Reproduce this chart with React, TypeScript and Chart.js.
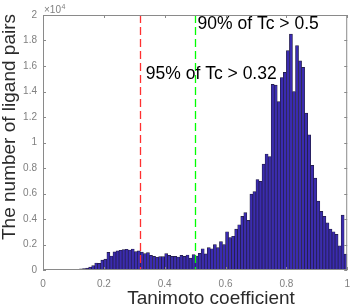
import React, { useEffect, useRef } from "react";
import { Chart, registerables } from "chart.js";

Chart.register(...registerables);

// Histogram of Tanimoto coefficients: 100 bins of width 0.01 on [0, 1]
const BIN_WIDTH = 0.01;
const binStarts: number[] = Array.from({ length: 100 }, (_, i) => i / 100);

// Counts per bin (number of ligand pairs)
const counts: number[] = [
  5, 8, 10, 12, 15, 18, 20, 25, 30, 35,
  40, 60, 90, 120, 150, 220, 350, 550, 520, 780,
  860, 1380, 1100, 1420, 1500, 1550, 1600, 1630, 1570, 1650,
  1450, 1500, 1410, 1280, 1360, 1150, 1070, 1000, 1050, 1050,
  1280, 1150, 1070, 1070, 1020, 1150, 1070, 1180, 930, 1200,
  1100, 1310, 1670, 1260, 1750, 1670, 2000, 1750, 2220, 2000,
  3000, 2550, 2650, 3200, 3550, 4200, 4500, 3900, 5950, 6150,
  7100, 6950, 8300, 9100, 8900, 14560, 14500, 13200, 15100, 15500,
  17200, 18500, 14000, 17600, 16400, 15900, 12300, 10600, 8200, 7200,
  5400, 4600, 4200, 3700, 3200, 3000, 2800, 1900, 4300, 1250,
];

const xTicks: number[] = [0, 0.2, 0.4, 0.6, 0.8, 1];
const yTicks: number[] = [0, 2000, 4000, 6000, 8000, 10000, 12000, 14000, 16000, 18000, 20000];
const yExponentLabel = "×10";
const yExponent = "4";

const thresholds: number[] = [0.32, 0.5];
const thresholdTexts: string[] = ["95% of Tc > 0.32", "90% of Tc > 0.5"];

const xTitle = "Tanimoto coefficient";
const yTitle = "The number of ligand pairs";

const FONT = "'Liberation Sans', Arial, Helvetica, sans-serif";
const LINE_COLORS = ["#ff3030", "#00ff00"];

const matlabPlugin = {
  id: "matlabDecor",
  afterDatasetsDraw(chart: any) {
    const { ctx, chartArea, scales } = chart;
    const { left, right, top, bottom } = chartArea;
    const xs = scales.x;
    const ys = scales.y;
    ctx.save();

    // dashed threshold lines
    for (let i = 0; i < thresholds.length; i++) {
      const px = Math.round(xs.getPixelForValue(thresholds[i])) + 0.5;
      ctx.save();
      ctx.beginPath();
      ctx.setLineDash([8, 4]);
      ctx.strokeStyle = LINE_COLORS[i];
      ctx.lineWidth = 1.3;
      ctx.moveTo(px, top);
      ctx.lineTo(px, bottom);
      ctx.stroke();
      ctx.restore();
    }
    ctx.setLineDash([]);

    // box
    ctx.strokeStyle = "#8a8a8a";
    ctx.lineWidth = 1;
    ctx.strokeRect(left + 0.5, top + 0.5, right - left - 1, bottom - top - 1);

    // inward ticks
    const tl = 3;
    ctx.beginPath();
    xTicks.forEach((v) => {
      const px = Math.round(xs.getPixelForValue(v)) + 0.5;
      ctx.moveTo(px, bottom);
      ctx.lineTo(px, bottom - tl);
      ctx.moveTo(px, top);
      ctx.lineTo(px, top + tl);
    });
    yTicks.forEach((v) => {
      const py = Math.round(ys.getPixelForValue(v)) + 0.5;
      ctx.moveTo(left, py);
      ctx.lineTo(left + tl, py);
      ctx.moveTo(right, py);
      ctx.lineTo(right - tl, py);
    });
    ctx.stroke();

    // annotations
    ctx.fillStyle = "#000000";
    ctx.font = `17.5px ${FONT}`;
    ctx.textAlign = "left";
    ctx.textBaseline = "alphabetic";
    ctx.fillText(thresholdTexts[1], xs.getPixelForValue(thresholds[1]) + 2.5, 29);
    ctx.fillText(thresholdTexts[0], xs.getPixelForValue(thresholds[0]) + 5.5, 79);

    // exponent label
    ctx.fillStyle = "#808080";
    ctx.font = `10px ${FONT}`;
    ctx.fillText(yExponentLabel, left + 1, 12.5);
    const w = ctx.measureText(yExponentLabel).width;
    ctx.font = `7px ${FONT}`;
    ctx.fillText(yExponent, left + 1 + w + 0.5, 8.5);

    // axis titles
    ctx.fillStyle = "#2b2b2b";
    ctx.font = `19px ${FONT}`;
    ctx.textAlign = "center";
    ctx.fillText(xTitle, 211, 304);
    ctx.save();
    ctx.translate(15, 127);
    ctx.rotate(-Math.PI / 2);
    ctx.fillText(yTitle, 0, 0);
    ctx.restore();

    ctx.restore();
  },
};

function fmt(v: number, div: number): string {
  const r = Math.round((v / div) * 10) / 10;
  return String(r);
}

export default function App() {
  const ref = useRef<HTMLCanvasElement | null>(null);

  useEffect(() => {
    if (!ref.current) return;
    const chart = new Chart(ref.current, {
      type: "bar",
      data: {
        datasets: [
          {
            data: binStarts.map((s, i) => ({ x: s + BIN_WIDTH / 2, y: counts[i] })),
            backgroundColor: "#3a2bb0",
            borderColor: "#221d3c",
            borderWidth: 0.7,
            barPercentage: 1,
            categoryPercentage: 1,
            grouped: false,
          } as any,
        ],
      },
      options: {
        animation: false,
        responsive: false,
        devicePixelRatio: 1,
        layout: { padding: { top: 15, right: 5, left: 0, bottom: 0 } },
        plugins: { legend: { display: false }, tooltip: { enabled: false } },
        scales: {
          x: {
            type: "linear",
            min: 0,
            max: 1,
            offset: false,
            grid: { display: false, drawTicks: false },
            border: { display: false },
            ticks: {
              color: "#808080",
              font: { size: 10, family: FONT },
              padding: 8,
              autoSkip: false,
              maxRotation: 0,
              callback: (v: any) => fmt(Number(v), 1),
            },
            afterBuildTicks: (s: any) => {
              s.ticks = xTicks.map((v) => ({ value: v }));
            },
            afterFit: (s: any) => {
              s.height = 38;
            },
          },
          y: {
            type: "linear",
            min: 0,
            max: 20000,
            grid: { display: false, drawTicks: false },
            border: { display: false },
            ticks: {
              color: "#808080",
              font: { size: 10, family: FONT },
              padding: 6,
              callback: (v: any) => fmt(Number(v), 10000),
            },
            afterBuildTicks: (s: any) => {
              s.ticks = yTicks.map((v) => ({ value: v }));
            },
            afterFit: (s: any) => {
              s.width = 43;
            },
          },
        },
      },
      plugins: [matlabPlugin],
    });
    return () => chart.destroy();
  }, []);

  return (
    <div style={{ position: "absolute", left: 0, top: 0, width: 358, height: 308, background: "#ffffff" }}>
      <canvas ref={ref} width={358} height={308} />
    </div>
  );
}
